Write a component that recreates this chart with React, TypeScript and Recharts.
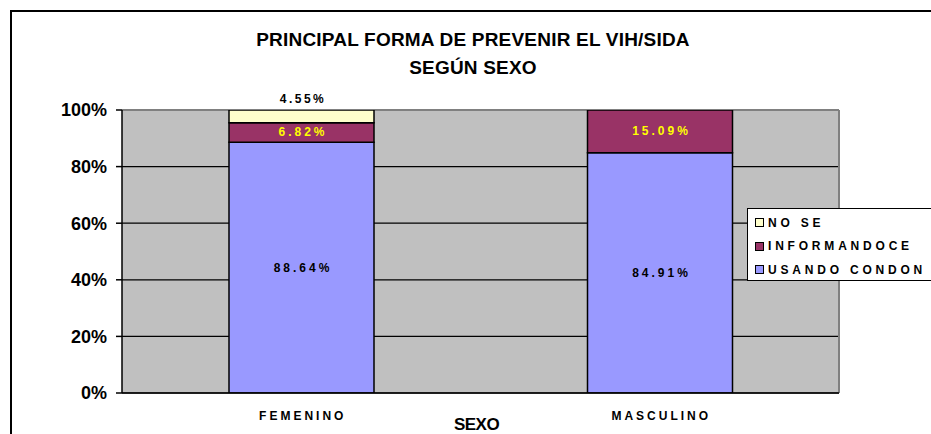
import { BarChart, Bar, XAxis, YAxis, CartesianGrid, LabelList } from 'recharts';

const categories = ['FEMENINO', 'MASCULINO'];
const usandoCondon = [88.64, 84.91];
const informandoce = [6.82, 15.09];
const noSe = [4.55, 0];
const yTicks = [0, 20, 40, 60, 80, 100];

const series = [
  { key: 'nose', name: 'NO SE', color: '#FFFFCC' },
  { key: 'informando', name: 'INFORMANDOCE', color: '#993366' },
  { key: 'usando', name: 'USANDO CONDON', color: '#9999FF' },
];

const data = categories.map((sexo, i) => ({
  sexo,
  usando: usandoCondon[i],
  informando: informandoce[i],
  nose: noSe[i],
}));

const font = 'Arial, "Liberation Sans", sans-serif';

const centerLabel = (color: string) => (props: any) => {
  const { x, y, width, height, value } = props;
  if (!value) return null;
  return (
    <text
      x={x + width / 2 + 1.5}
      y={y + height / 2}
      textAnchor="middle"
      dominantBaseline="central"
      fill={color}
      fontFamily={font}
      fontWeight="bold"
      fontSize={12}
      letterSpacing={3}
    >
      {`${value.toFixed(2)}%`}
    </text>
  );
};

const topLabel = (props: any) => {
  const { x, y, width, value } = props;
  if (!value) return null;
  return (
    <text
      x={x + width / 2 + 1.5}
      y={y - 11}
      textAnchor="middle"
      dominantBaseline="central"
      fill="#000"
      fontFamily={font}
      fontWeight="bold"
      fontSize={12}
      letterSpacing={2.5}
    >
      {`${value.toFixed(2)}%`}
    </text>
  );
};

const XTick = (props: any) => {
  const { x, y, payload } = props;
  return (
    <text
      x={x + 1.5}
      y={y + 23}
      textAnchor="middle"
      dominantBaseline="central"
      fill="#000"
      fontFamily={font}
      fontWeight="bold"
      fontSize={12}
      letterSpacing={3}
    >
      {payload.value}
    </text>
  );
};

const ChartLegend = () => (
  <div
    style={{
      position: 'absolute',
      left: 747,
      top: 208,
      width: 190,
      height: 73,
      border: '1.5px solid #000',
      background: '#fff',
      boxSizing: 'border-box',
      paddingTop: 2,
      paddingLeft: 7,
    }}
  >
    {series.map((s) => (
      <div
        key={s.key}
        style={{
          display: 'flex',
          alignItems: 'center',
          height: 23.5,
          fontFamily: font,
          fontWeight: 'bold',
          fontSize: 12,
          letterSpacing: 3.8,
          color: '#000',
          whiteSpace: 'nowrap',
        }}
      >
        <span
          style={{
            width: 7,
            height: 7,
            border: '1px solid #000',
            background: s.color,
            marginRight: 4,
          }}
        />
        {s.name}
      </div>
    ))}
  </div>
);

export default function App() {
  return (
    <div
      style={{
        position: 'absolute',
        left: 0,
        top: 0,
        width: 931,
        height: 434,
        overflow: 'hidden',
        background: '#fff',
      }}
    >
      <div
        style={{
          position: 'absolute',
          left: 10,
          top: 10,
          width: 940,
          height: 450,
          borderTop: '2px solid #000',
          borderLeft: '2px solid #000',
        }}
      />
      <div
        style={{
          position: 'absolute',
          left: 0,
          width: 946,
          top: 26,
          textAlign: 'center',
          fontFamily: font,
          fontWeight: 'bold',
          fontSize: 19,
          lineHeight: '28px',
          letterSpacing: 0.2,
          color: '#000',
        }}
      >
        <div>PRINCIPAL FORMA DE PREVENIR EL VIH/SIDA</div>
        <div>SEGÚN SEXO</div>
      </div>
      <BarChart
        width={931}
        height={434}
        data={data}
        margin={{ top: 110, right: 92, left: 0, bottom: 0 }}
        style={{ position: 'absolute', left: 0, top: 0 }}
      >
        <CartesianGrid fill="#C0C0C0" stroke="#000" strokeWidth={1.2} vertical={false} />
        <CartesianGrid
          stroke="#808080"
          strokeWidth={2}
          vertical={false}
          horizontalCoordinatesGenerator={({ offset }: any) => [offset.top]}
        />
        <CartesianGrid
          stroke="#808080"
          strokeWidth={2}
          horizontal={false}
          verticalCoordinatesGenerator={({ offset }: any) => [offset.left + offset.width]}
        />
        <XAxis
          dataKey="sexo"
          height={41}
          tickLine={false}
          tickSize={0}
          tickMargin={0}
          axisLine={{ stroke: '#000', strokeWidth: 1.5 }}
          tick={<XTick />}
          label={{
            value: 'SEXO',
            position: 'insideBottom',
            offset: 4,
            dx: -4,
            fill: '#000',
            fontFamily: font,
            fontWeight: 'bold',
            fontSize: 17,
            letterSpacing: -0.5,
          }}
        />
        <YAxis
          width={122}
          domain={[0, 100]}
          allowDataOverflow
          ticks={yTicks}
          tickFormatter={(v: number) => `${v}%`}
          tickSize={6}
          tickMargin={9}
          axisLine={{ stroke: '#000', strokeWidth: 1.5 }}
          tickLine={{ stroke: '#000', strokeWidth: 1.5 }}
          tick={{ fill: '#000', fontFamily: font, fontWeight: 'bold', fontSize: 18 }}
        />
        <Bar dataKey="usando" name="USANDO CONDON" stackId="a" fill="#9999FF" stroke="#000" strokeWidth={1.5} barSize={145} isAnimationActive={false}>
          <LabelList dataKey="usando" content={centerLabel('#000')} />
        </Bar>
        <Bar dataKey="informando" name="INFORMANDOCE" stackId="a" fill="#993366" stroke="#000" strokeWidth={1.5} barSize={145} isAnimationActive={false}>
          <LabelList dataKey="informando" content={centerLabel('#FFFF00')} />
        </Bar>
        <Bar dataKey="nose" name="NO SE" stackId="a" fill="#FFFFCC" stroke="#000" strokeWidth={1.5} barSize={145} isAnimationActive={false}>
          <LabelList dataKey="nose" content={topLabel} />
        </Bar>
      </BarChart>
      <ChartLegend />
    </div>
  );
}
